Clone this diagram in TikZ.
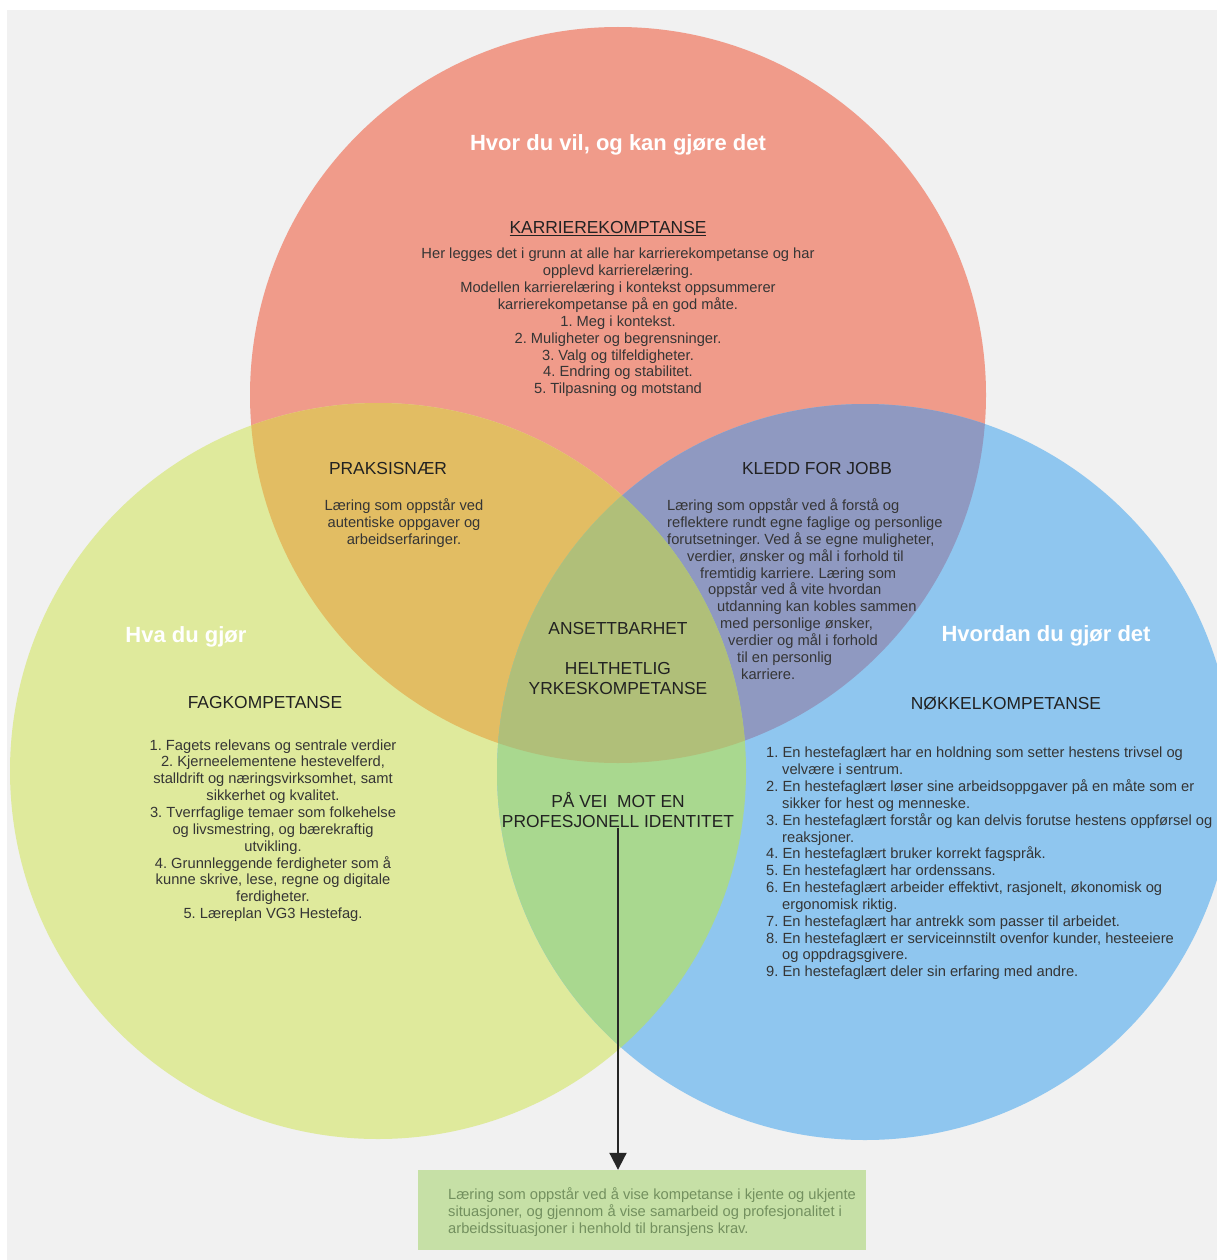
\documentclass[tikz,border=0pt]{standalone}
\usepackage{fontspec}
\setmainfont{Liberation Sans}
\usetikzlibrary{arrows.meta, positioning}
\frenchspacing

\definecolor{bggrey}{HTML}{F1F1F1}
\definecolor{karrcol}{HTML}{F09B8A}
\definecolor{fagcol}{HTML}{DFEA9C}
\definecolor{nokcol}{HTML}{8FC6EF}
\definecolor{praksiscol}{HTML}{E2BD63}
\definecolor{kleddcol}{HTML}{8F99C1}
\definecolor{identcol}{HTML}{A9D88F}
\definecolor{ansettcol}{HTML}{B0BF79}
\definecolor{boxcol}{HTML}{C6E0A6}
\definecolor{headdark}{HTML}{222222}
\definecolor{bodydark}{HTML}{353535}
\definecolor{boxtext}{HTML}{73905F}

\newcommand{\circr}{368pt}
\newcommand{\listindent}{\hspace*{16pt}}

\tikzset{
  circtitle/.style={text=white, inner sep=0pt, font=\fontsize{22}{26}\selectfont\bfseries},
  areahead/.style={text=headdark, inner sep=0pt, align=center, font=\fontsize{17.4}{19.5}\selectfont},
  areatext/.style={text=bodydark, inner sep=0pt, align=center, font=\fontsize{14.7}{16.85}\selectfont},
  lefttext/.style={areatext, align=left},
}

\begin{document}
\begin{tikzpicture}[x=1pt, y=-1pt]
\useasboundingbox (0,0) rectangle (1217,1260);
\fill[white] (0,0) rectangle (1217,1260);
\fill[bggrey] (7,10) rectangle (1217,1260);

\coordinate (ckarr) at (618,395);
\coordinate (cfag) at (378,771);
\coordinate (cnok) at (865,772);

% the three circles and their overlaps
\begin{scope}
  \clip (7,10) rectangle (1217,1260);
  \fill[karrcol] (ckarr) circle[radius=\circr];
  \fill[fagcol] (cfag) circle[radius=\circr];
  \fill[nokcol] (cnok) circle[radius=\circr];
  \begin{scope}
    \clip (ckarr) circle[radius=\circr];
    \fill[praksiscol] (cfag) circle[radius=\circr];
    \fill[kleddcol] (cnok) circle[radius=\circr];
  \end{scope}
  \begin{scope}
    \clip (cfag) circle[radius=\circr];
    \fill[identcol] (cnok) circle[radius=\circr];
    \clip (cnok) circle[radius=\circr];
    \fill[ansettcol] (ckarr) circle[radius=\circr];
  \end{scope}
\end{scope}

% top circle
\node[circtitle] (karrtitle) at (618,145) {Hvor du vil, og kan gjøre det};
\node[areahead] (karrhead) at (608,229) {\underline{KARRIEREKOMPTANSE}};
\node[areatext] (karrtext) at (618,322.5) {Her legges det i grunn at alle har karrierekompetanse og har\\
  opplevd karrierelæring.\\
  Modellen karrierelæring i kontekst oppsummerer\\
  karrierekompetanse på en god måte.\\
  1. Meg i kontekst.\\
  2. Muligheter og begrensninger.\\
  3. Valg og tilfeldigheter.\\
  4. Endring og stabilitet.\\
  5. Tilpasning og motstand};

% overlaps with the top circle
\node[areahead] (praksishead) at (388,469) {PRAKSISNÆR};
\node[areatext] (praksistext) at (404,523) {Læring som oppstår ved\\
  autentiske oppgaver og\\
  arbeidserfaringer.};
\node[areahead] (kleddhead) at (817,469) {KLEDD FOR JOBB};
\node[lefttext, anchor=west] (kleddtext) at (667,589) {Læring som oppstår ved å forstå og\\
  reflektere rundt egne faglige og personlige\\
  forutsetninger. Ved å se egne muligheter,\\
  \hspace*{20pt}verdier, ønsker og mål i forhold til\\
  \hspace*{33pt}fremtidig karriere. Læring som\\
  \hspace*{41pt}oppstår ved å vite hvordan\\
  \hspace*{50pt}utdanning kan kobles sammen\\
  \hspace*{53pt}med personlige ønsker,\\
  \hspace*{61pt}verdier og mål i forhold\\
  \hspace*{70pt}til en personlig\\
  \hspace*{74pt}karriere.};

% centre
\node[areahead] (ansett) at (618,629) {ANSETTBARHET};
\node[areahead] (helhet) at (618,678.5) {HELTHETLIG\\YRKESKOMPETANSE};
\node[areahead] (ident) at (618,810) {PÅ VEI\ \ MOT EN\\PROFESJONELL IDENTITET};

% left circle
\node[circtitle] (fagtitle) at (186,637) {Hva du gjør};
\node[areahead] (faghead) at (265,703) {FAGKOMPETANSE};
\node[areatext] (fagtext) at (273,830.5) {1. Fagets relevans og sentrale verdier\\
  2. Kjerneelementene hestevelferd,\\
  stalldrift og næringsvirksomhet, samt\\
  sikkerhet og kvalitet.\\
  3. Tverrfaglige temaer som folkehelse\\
  og livsmestring, og bærekraftig\\
  utvikling.\\
  4. Grunnleggende ferdigheter som å\\
  kunne skrive, lese, regne og digitale\\
  ferdigheter.\\
  5. Læreplan VG3 Hestefag.};

% right circle
\node[circtitle] (noktitle) at (1046,636) {Hvordan du gjør det};
\node[areahead] (nokhead) at (1006,703) {NØKKELKOMPETANSE};
\node[lefttext, anchor=west] (noktext) at (766,863.5) {1. En hestefaglært har en holdning som setter hestens trivsel og\\
  \listindent velvære i sentrum.\\
  2. En hestefaglært løser sine arbeidsoppgaver på en måte som er\\
  \listindent sikker for hest og menneske.\\
  3. En hestefaglært forstår og kan delvis forutse hestens oppførsel og\\
  \listindent reaksjoner.\\
  4. En hestefaglært bruker korrekt fagspråk.\\
  5. En hestefaglært har ordenssans.\\
  6. En hestefaglært arbeider effektivt, rasjonelt, økonomisk og\\
  \listindent ergonomisk riktig.\\
  7. En hestefaglært har antrekk som passer til arbeidet.\\
  8. En hestefaglært er serviceinnstilt ovenfor kunder, hesteeiere\\
  \listindent og oppdragsgivere.\\
  9. En hestefaglært deler sin erfaring med andre.};

% box below
\node[fill=boxcol, minimum width=448pt, minimum height=80pt, inner sep=0pt] (box) at (642,1210) {};
\node[lefttext, text=boxtext, anchor=west] (boxtext) at (448,1212) {Læring som oppstår ved å vise kompetanse i kjente og ukjente\\
  situasjoner, og gjennom å vise samarbeid og profesjonalitet i\\
  arbeidssituasjoner i henhold til bransjens krav.};

\draw[line width=2pt, black!85, -{Triangle[width=17pt, length=17pt]}] (ident) -- (ident |- box.north);
\end{tikzpicture}
\end{document}
